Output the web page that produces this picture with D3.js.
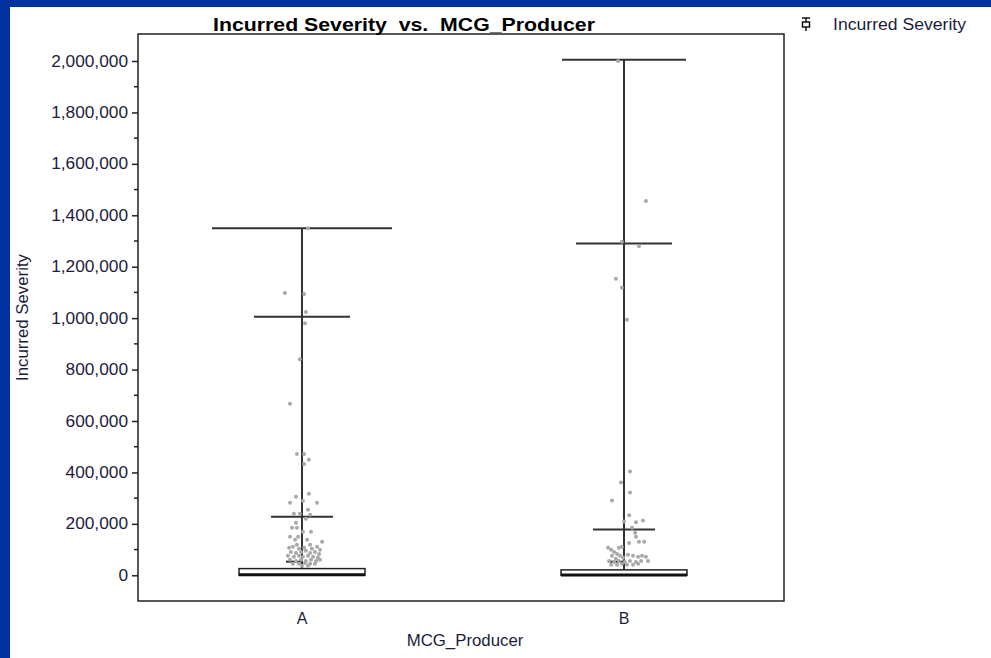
<!DOCTYPE html>
<html>
<head>
<meta charset="utf-8">
<script src="https://cdn.jsdelivr.net/npm/d3@7"></script>
<style>
  body { margin: 0; background: #0033a0; }
  svg { display: block; }
  text { font-family: "Liberation Sans", Arial, sans-serif; }
</style>
</head>
<body>
<svg id="chart" width="991" height="658"></svg>
<script>
// categories
var producers = ["A", "B"];

// box statistics
var q1 = [0, 0];
var medians = [2000, 1500];
var q3 = [26000, 21000];
var maxes = [1350000, 2005000];
var p99 = [1005000, 1290000];
var p95 = [228000, 178000];
var p90 = [53000, 53000];

// y ticks
var yTicks = [0, 200000, 400000, 600000, 800000, 1000000, 1200000, 1400000, 1600000, 1800000, 2000000];

// individual claims: [jitter (-1..1), value]
var pointsA = [
    [0.2, 1350000], [-0.57, 1098000], [0.07, 1094000], [0.13, 1024000], [0.1, 980000],
    [-0.07, 840000], [-0.4, 667000], [-0.17, 472000], [0.07, 472000], [0.23, 449000],
    [0.07, 433000], [-0.2, 305000], [0.23, 317000], [-0.4, 282000], [0.5, 282000],
    [0.03, 290000], [0.2, 255000], [-0.27, 239000], [-0.07, 239000], [0.27, 235000],
    [0.13, 220000], [-0.2, 204000], [-0.33, 185000], [-0.17, 185000], [0.03, 169000],
    [0.3, 169000], [-0.4, 150000], [-0.13, 150000], [0.67, 130000], [-0.23, 138000],
    [0.17, 138000], [-0.17, 119000], [0.27, 119000],
    [-0.43, 107000], [-0.3, 111000], [-0.1, 103000], [0.07, 107000], [0.33, 103000], [0.5, 111000], [0.6, 99000],
    [-0.37, 91000], [-0.2, 87000], [-0.03, 91000], [0.13, 95000], [0.27, 87000], [0.43, 91000], [0.57, 83000],
    [-0.47, 76000], [-0.27, 72000], [-0.1, 76000], [0.03, 72000], [0.2, 76000], [0.37, 72000], [0.53, 68000],
    [-0.4, 60000], [-0.2, 56000], [-0.03, 60000], [0.13, 56000], [0.3, 60000], [0.47, 56000], [0.6, 60000],
    [-0.3, 45000], [-0.1, 45000], [0.1, 48000], [0.27, 45000], [0.43, 45000], [0.0, 37000], [0.2, 37000]
];
var pointsB = [
    [-0.2, 2000000], [0.73, 1456000], [-0.07, 1297000], [0.5, 1280000], [-0.27, 1153000],
    [-0.07, 1118000], [0.1, 994000], [0.2, 404000], [-0.1, 361000], [0.2, 322000],
    [-0.4, 291000], [0.17, 233000], [0.63, 213000], [0.4, 206000], [0.0, 209000],
    [0.27, 185000], [0.37, 165000], [0.4, 150000], [0.5, 130000], [0.67, 130000],
    [0.17, 126000], [-0.07, 111000], [-0.17, 107000],
    [-0.53, 107000], [-0.43, 99000], [-0.33, 91000], [-0.23, 83000], [-0.13, 76000], [-0.03, 68000],
    [-0.4, 76000], [-0.27, 64000], [0.13, 80000], [0.3, 76000], [0.47, 72000], [0.6, 76000], [0.73, 72000],
    [-0.5, 56000], [-0.33, 52000], [-0.17, 56000], [0.03, 52000], [0.2, 56000], [0.4, 52000], [0.57, 56000],
    [-0.43, 41000], [-0.23, 41000], [-0.07, 45000], [0.1, 41000], [0.3, 41000], [0.47, 45000], [0.8, 56000]
];
var groupPoints = [pointsA, pointsB];

// ----- layout -----
var svg = d3.select("#chart");
var plot = { left: 138, right: 784, top: 34, bottom: 601 };

// the original picture is a bit wider than its fonts
function stretch(sel, f)
{
    sel.each(function ()
    {
        var len = this.getComputedTextLength();
        d3.select(this)
            .attr("textLength", len * f)
            .attr("lengthAdjust", "spacingAndGlyphs");
    });
}

svg.append("rect")
    .attr("x", 10).attr("y", 7)
    .attr("width", 981).attr("height", 651)
    .attr("fill", "#ffffff");

var y = d3.scaleLinear()
    .domain([-100000, 2105000])
    .range([plot.bottom, plot.top]);

var x = d3.scalePoint()
    .domain(producers)
    .range([141, 785])
    .padding(0.5);

var jitter = d3.scaleLinear().domain([-1, 1]).range([-30, 30]);

// cap half widths in px (max, p99, p95)
var capHalf = [[90, 48, 31], [62, 48, 31]];
var boxHalf = 63;

// frame
svg.append("rect")
    .attr("x", plot.left).attr("y", plot.top)
    .attr("width", plot.right - plot.left).attr("height", plot.bottom - plot.top)
    .attr("fill", "none")
    .attr("stroke", "#222")
    .attr("stroke-width", 1.5);

// y axis
var yAxis = d3.axisLeft(y)
    .tickValues(yTicks)
    .tickFormat(d3.format(","))
    .tickSize(6)
    .tickPadding(4);

var gy = svg.append("g")
    .attr("transform", "translate(" + plot.left + ",0)")
    .call(yAxis);
gy.select(".domain").remove();
gy.selectAll("line").attr("stroke", "#222").attr("stroke-width", 1.5);
gy.selectAll("text")
    .attr("font-size", 16)
    .attr("fill", "#1c1c3c")
    .attr("font-family", "Liberation Sans, Arial, sans-serif");
stretch(gy.selectAll("text"), 1.08);

// minor ticks
var minor = d3.range(100000, 2000000, 200000);
svg.append("g").selectAll("line")
    .data(minor)
    .enter().append("line")
    .attr("x1", plot.left - 4).attr("x2", plot.left)
    .attr("y1", function (d) { return y(d); })
    .attr("y2", function (d) { return y(d); })
    .attr("stroke", "#222")
    .attr("stroke-width", 1.5);

// x labels
svg.append("g").selectAll("text")
    .data(producers)
    .enter().append("text")
    .attr("x", function (d) { return x(d); })
    .attr("y", 624)
    .attr("text-anchor", "middle")
    .attr("font-size", 16)
    .attr("fill", "#1c1c3c")
    .text(function (d) { return d; });

// axis titles
var xt = svg.append("text")
    .attr("x", (plot.left + plot.right) / 2 + 4)
    .attr("y", 646)
    .attr("text-anchor", "middle")
    .attr("font-size", 16)
    .attr("fill", "#1c1c3c")
    .text("MCG_Producer");
stretch(xt, 1.05);

var yt = svg.append("text")
    .attr("transform", "translate(28," + ((plot.top + plot.bottom) / 2) + ") rotate(-90)")
    .attr("text-anchor", "middle")
    .attr("font-size", 16)
    .attr("fill", "#1c1c3c")
    .text("Incurred Severity");
stretch(yt, 1.05);

// title
var title = svg.append("text")
    .attr("x", 404)
    .attr("y", 31)
    .attr("text-anchor", "middle")
    .attr("font-size", 19)
    .attr("font-weight", "bold")
    .attr("fill", "#000")
    .attr("xml:space", "preserve")
    .text("Incurred Severity  vs.  MCG_Producer");
stretch(title, 1.12);

// boxes
var groups = svg.append("g").selectAll("g")
    .data(producers)
    .enter().append("g");

groups.each(function (d, i) {
    var g = d3.select(this);
    var cx = x(d);

    // whisker
    g.append("line")
        .attr("x1", cx).attr("x2", cx)
        .attr("y1", y(q3[i])).attr("y2", y(maxes[i]))
        .attr("stroke", "#333").attr("stroke-width", 2);

    // caps
    [maxes[i], p99[i], p95[i]].forEach(function (v, k) {
        g.append("line")
            .attr("x1", cx - capHalf[i][k]).attr("x2", cx + capHalf[i][k])
            .attr("y1", y(v)).attr("y2", y(v))
            .attr("stroke", "#333").attr("stroke-width", 2);
    });
    g.append("line")
        .attr("x1", cx - 16).attr("x2", cx)
        .attr("y1", y(p90[i])).attr("y2", y(p90[i]))
        .attr("stroke", "#333").attr("stroke-width", 2);

    // points
    g.selectAll("circle")
        .data(groupPoints[i])
        .enter().append("circle")
        .attr("cx", function (p) { return cx + jitter(p[0]); })
        .attr("cy", function (p) { return y(p[1]); })
        .attr("r", 2)
        .attr("fill", "#a9a9a9");

    // box
    g.append("rect")
        .attr("x", cx - boxHalf)
        .attr("y", y(q3[i]))
        .attr("width", boxHalf * 2)
        .attr("height", y(q1[i]) - y(q3[i]))
        .attr("fill", "#fff")
        .attr("stroke", "#222")
        .attr("stroke-width", 1.5);
    g.append("line")
        .attr("x1", cx - boxHalf).attr("x2", cx + boxHalf)
        .attr("y1", y(medians[i])).attr("y2", y(medians[i]))
        .attr("stroke", "#111").attr("stroke-width", 3);
});

// legend
var lg = svg.append("g").attr("transform", "translate(806,24)");
lg.append("line").attr("x1", 0).attr("x2", 0).attr("y1", -6).attr("y2", 7)
    .attr("stroke", "#111").attr("stroke-width", 1.5);
lg.append("line").attr("x1", -4).attr("x2", 4).attr("y1", -6).attr("y2", -6)
    .attr("stroke", "#111").attr("stroke-width", 1.5);
lg.append("rect").attr("x", -3.5).attr("y", -2).attr("width", 7).attr("height", 5)
    .attr("fill", "#fff").attr("stroke", "#111").attr("stroke-width", 1.5);
var lt = lg.append("text")
    .attr("x", 27).attr("y", 6)
    .attr("font-size", 16)
    .attr("fill", "#1c1c3c")
    .text("Incurred Severity");
stretch(lt, 1.1);
</script>
</body>
</html>
